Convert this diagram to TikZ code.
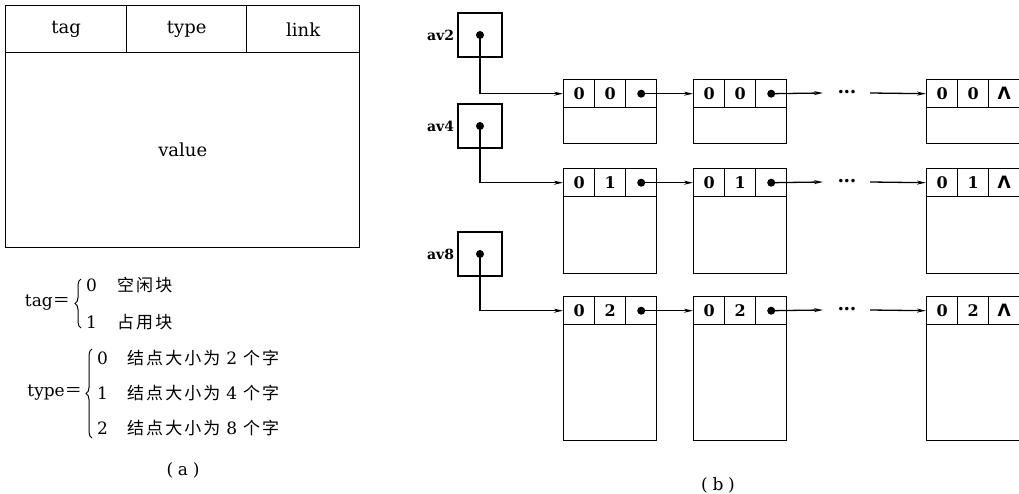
\documentclass[tikz,border=0pt]{standalone}
\usepackage{amsmath,amssymb}
\usepackage{fontspec}
\setmainfont{DejaVu Serif}
\newfontfamily\cjk[LetterSpace=12]{Noto Sans CJK SC}
\newfontfamily\sansf{DejaVu Sans}
\usetikzlibrary{arrows.meta,positioning,decorations.pathreplacing}
\newcommand{\zh}[1]{{\cjk #1}}
\tikzset{
  >={Stealth[length=9pt,width=4pt]},
  % tabell (a)
  fld/.style={draw,line width=1.4pt,inner sep=0pt,anchor=north west,
              minimum height=47pt,font=\fontsize{18}{20}\selectfont},
  txt/.style={font=\fontsize{17}{19}\selectfont,inner sep=0pt},
  item/.style={font=\fontsize{17}{19}\selectfont,inner sep=0pt,anchor=west},
  brc/.style={decorate,decoration={brace,amplitude=6pt},line width=1pt},
  % listor (b)
  cell/.style={draw,line width=1.4pt,minimum width=31pt,minimum height=28pt,
               inner sep=0pt,anchor=north west,font=\fontsize{16}{16}\selectfont\bfseries},
  body/.style={draw,line width=1.4pt,minimum width=93pt,inner sep=0pt,anchor=north west},
  ptr/.style={draw,line width=1.4pt,minimum size=44pt,inner sep=0pt},
  dot/.style={circle,fill,inner sep=0pt,minimum size=8pt},
  lnk/.style={->,line width=1.3pt},
  lbl/.style={font=\fontsize{14}{14}\selectfont\bfseries,inner sep=1pt},
}
\begin{document}
\begin{tikzpicture}[x=1pt,y=-1pt]
  \useasboundingbox (0,0) rectangle (1019,494);
  % (a)
  \node[fld,minimum width=121pt] (ftag) at (5,5) {tag};
  \node[fld,minimum width=120pt] (ftype) at (126,5) {type};
  \node[fld,minimum width=113pt] (flink) at (246,5) {link};
  \node[fld,minimum width=354pt,minimum height=195pt] (fval) at (5,52) {value};
  \node[txt,anchor=east] (tageq) at (70,303) {tag\zh{＝}};
  \coordinate (tagb1) at (81,328);
  \coordinate (tagb2) at (81,279);
  \draw[brc] (tagb1) -- (tagb2);
  \foreach \v/\s/\y in {0/空闲块/285, 1/占用块/322}{
    \node[item] (tag\v) at (86,\y) {\v};
    \node[item] (tagt\v) at (117,\y) {\zh{\s}};
  }
  \node[txt,anchor=east] (typeeq) at (82,393) {type\zh{＝}};
  \coordinate (typeb1) at (92,438);
  \coordinate (typeb2) at (92,349);
  \draw[brc] (typeb1) -- (typeb2);
  \foreach \v/\n/\y in {0/2/358, 1/4/393, 2/8/428}{
    \node[item] (type\v) at (97,\y) {\v};
    \node[item] (typet\v) at (127,\y) {\zh{结点大小为}\hspace{6pt}\n\hspace{6pt}\zh{个字}};
  }
  \node[txt] (capa) at (183,470) {(\;a\;)};
  % (b)
  \foreach \r/\t/\y/\h/\p/\py in {1/0/79/36/2/35, 2/1/168/77/4/126, 3/2/296/116/8/254}{
    \node[ptr] (av\p) at (480,\py) {};
    \node[dot] (d\p) at (av\p.center) {};
    \node[lbl,left=2pt of av\p] (l\p) {av\p};
    \foreach \c/\x in {1/563,2/693,3/926}{
      \node[cell] (n\r\c a) at (\x,\y) {0};
      \node[cell] (n\r\c b) at (\x+31,\y) {\t};
      \node[cell] (n\r\c c) at (\x+62,\y) {};
      \node[body,minimum height=\h pt] (n\r\c v) at (\x,\y+28) {};
    }
    \node[dot] (n\r1d) at (n\r1c.center) {};
    \node[dot] (n\r2d) at (n\r2c.center) {};
    \node[font=\fontsize{17}{17}\selectfont\sansf\bfseries] at (n\r3c.center) {Λ};
    \coordinate (e\r) at (823,\y+14);
    \node[inner sep=0pt,font=\fontsize{12}{12}\selectfont] (m\r) at (847,\y+14) {\textbullet\hspace{-1pt}\textbullet\hspace{-1pt}\textbullet};
    \coordinate (s\r) at (870,\y+14);
    \draw[lnk] (d\p.center) |- (n\r1a.west);
    \draw[lnk] (n\r1d.center) -- (n\r2a.west);
    \draw[lnk] (n\r2d.center) -- (e\r);
    \draw[lnk] (s\r) -- (n\r3a.west);
  }
  \node[txt] (capb) at (718,485) {(\;b\;)};
\end{tikzpicture}
\end{document}
